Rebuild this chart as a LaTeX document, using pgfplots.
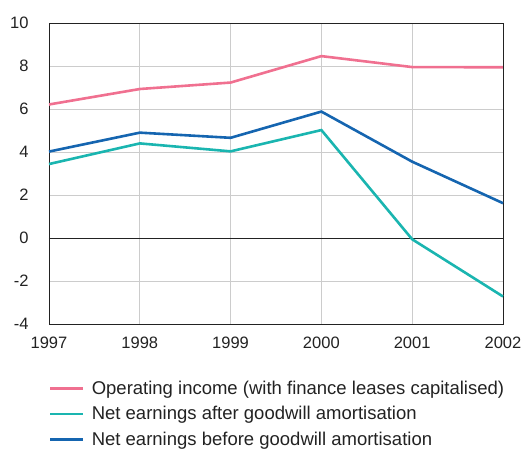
\documentclass[border=0pt]{standalone}
\usepackage{pgfplots}
\pgfplotsset{compat=1.18}
\usepackage{fontspec}
\setmainfont{Liberation Sans}
\definecolor{cpink}{HTML}{F07090}
\definecolor{cteal}{HTML}{1AB5B0}
\definecolor{cblue}{HTML}{1565B0}
\definecolor{ctext}{HTML}{222222}
\begin{document}
\begin{tikzpicture}
\useasboundingbox (-49pt,-124pt) rectangle (474pt,23pt+301pt);
\begin{axis}[
  at={(0,0)}, anchor=south west,
  scale only axis, width=454pt, height=301pt,
  xmin=1997, xmax=2002, ymin=-4, ymax=10,
  xtick={1997,...,2002}, ytick={-4,-2,...,10},
  xticklabels={1997,1998,1999,2000,2001,2002},
  yticklabels={-4,-2,0,2,4,6,8,10},
  major tick length=0pt,
  grid=major,
  major grid style={draw=black!20, line width=0.8pt},
  axis line style={draw=ctext, line width=0.9pt},
  tick label style={font=\fontsize{16.5}{19}\selectfont, text=ctext},
  yticklabel style={xshift=-17pt},
  xticklabel style={yshift=-9pt},
  legend style={at={(0,-0.182)}, anchor=north west, draw=none, fill=none,
    font=\fontsize{18.5}{21}\selectfont, text=ctext,
    row sep=6.5pt, inner xsep=0pt, inner ysep=0pt, cells={anchor=west}},
  legend image code/.code={\draw[#1, line width=2.6pt] (-1pt,0pt) -- (32pt,0pt);},
  legend cell align=left,
  clip=false,
]
\draw[ctext, line width=0.9pt] (axis cs:1997,0) -- (axis cs:2002,0);
\addplot[cpink, line width=2.6pt] coordinates {(1997,6.21) (1998,6.93) (1999,7.23) (2000,8.46) (2001,7.95) (2002,7.94)};
\addlegendentry{\hspace{5pt}Operating income (with finance leases capitalised)}
\addplot[cteal, line width=2.6pt] coordinates {(1997,3.44) (1998,4.40) (1999,4.03) (2000,5.02) (2001,-0.06) (2002,-2.72)};
\addlegendentry{\hspace{5pt}Net earnings after goodwill amortisation}
\addplot[cblue, line width=2.6pt] coordinates {(1997,4.02) (1998,4.90) (1999,4.66) (2000,5.88) (2001,3.55) (2002,1.62)};
\addlegendentry{\hspace{5pt}Net earnings before goodwill amortisation}
\end{axis}
\end{tikzpicture}
\end{document}
